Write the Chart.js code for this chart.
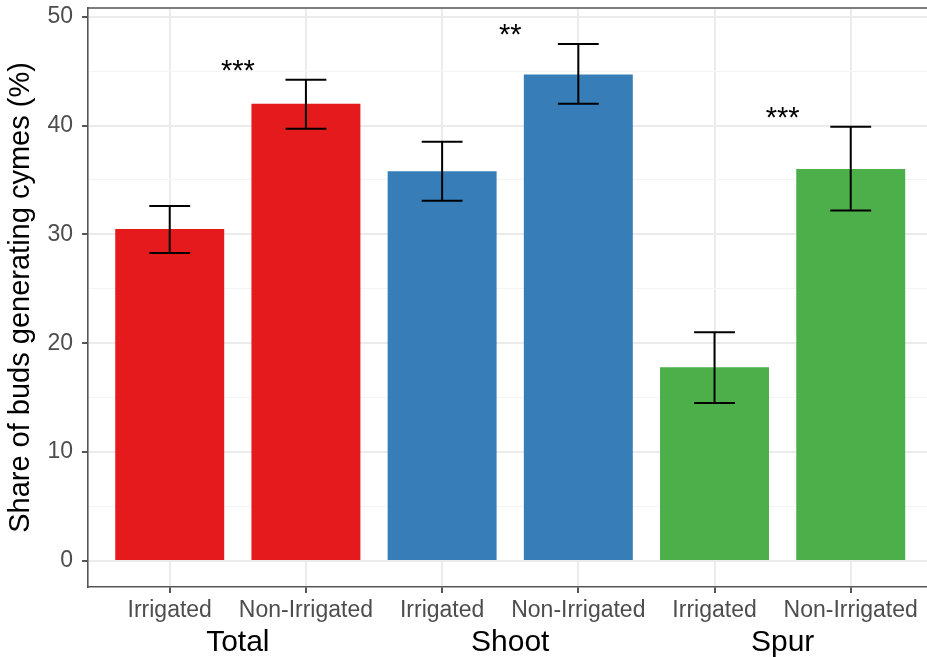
<!DOCTYPE html>
<html>
<head>
<meta charset="utf-8">
<script src="https://cdn.jsdelivr.net/npm/chart.js@4/dist/chart.umd.min.js"></script>
<style>
  html, body { margin: 0; padding: 0; background: #ffffff; }
  #wrap { width: 927px; height: 657px; position: relative; }
</style>
</head>
<body>
<div id="wrap"><canvas id="c" width="927" height="657"></canvas></div>
<script>
// Share of buds generating cymes, by bud type and irrigation treatment
const categories = ['Irrigated', 'Non-Irrigated', 'Irrigated', 'Non-Irrigated', 'Irrigated', 'Non-Irrigated'];
const groups = ['Total', 'Shoot', 'Spur'];
const values = [30.5, 42.0, 35.8, 44.7, 17.8, 36.0];
const lower = [28.3, 39.7, 33.1, 42.0, 14.5, 32.2];
const upper = [32.6, 44.2, 38.5, 47.5, 21.0, 39.9];
const significance = ['***', '**', '***'];
const yTicks = [0, 5, 10, 15, 20, 25, 30, 35, 40, 45, 50];

const groupColors = ['#E41A1C', '#377EB8', '#4DAF4A'];
const barColors = categories.map((_, i) => groupColors[Math.floor(i / 2)]);

const FONT = '"Liberation Sans", Arial, Helvetica, sans-serif';
const AXIS = '#555555';
const TICKTXT = '#4d4d4d';

function isMajor(v) { return v % 10 === 0; }

// error bars, significance stars and the top panel edge
const overlay = {
  id: 'overlay',
  afterDatasetsDraw(chart) {
    const { ctx, scales: { x, y }, chartArea } = chart;
    const half = (x.getPixelForValue(1.15) - x.getPixelForValue(1));
    ctx.save();
    ctx.strokeStyle = '#000000';
    ctx.lineWidth = 2;
    ctx.lineCap = 'butt';
    values.forEach((v, i) => {
      const px = x.getPixelForValue(i + 1);
      const yl = y.getPixelForValue(lower[i]);
      const yu = y.getPixelForValue(upper[i]);
      ctx.beginPath();
      ctx.moveTo(px, yl); ctx.lineTo(px, yu);
      ctx.moveTo(px - half, yu); ctx.lineTo(px + half, yu);
      ctx.moveTo(px - half, yl); ctx.lineTo(px + half, yl);
      ctx.stroke();
    });
    ctx.fillStyle = '#000000';
    ctx.font = '29px ' + FONT;
    ctx.textAlign = 'center';
    ctx.textBaseline = 'alphabetic';
    significance.forEach((s, g) => {
      const px = x.getPixelForValue(2 * g + 1.5);
      const py = y.getPixelForValue(upper[2 * g + 1]);
      ctx.fillText(s, px, py);
    });
    ctx.strokeStyle = AXIS;
    ctx.lineWidth = 1.6;
    ctx.beginPath();
    ctx.moveTo(chartArea.left, chartArea.top);
    ctx.lineTo(chartArea.right, chartArea.top);
    ctx.stroke();
    ctx.restore();
  }
};

new Chart(document.getElementById('c'), {
  type: 'bar',
  data: {
    datasets: [{
      data: values.map((v, i) => ({ x: i + 1, y: v })),
      backgroundColor: barColors,
      borderWidth: 0,
      categoryPercentage: 1.0,
      barPercentage: 0.8
    }]
  },
  options: {
    responsive: false,
    animation: false,
    devicePixelRatio: 1,
    layout: { padding: { top: 8, left: 0, right: 0, bottom: 0 } },
    plugins: { legend: { display: false }, tooltip: { enabled: false } },
    scales: {
      x: {
        type: 'linear',
        position: 'bottom',
        weight: 0,
        offset: false,
        min: 0.4,
        max: 6.56,
        afterBuildTicks(scale) { scale.ticks = categories.map((_, i) => ({ value: i + 1 })); },
        afterFit(scale) { scale.height = 38; scale.paddingLeft = 0; scale.paddingRight = 0; },
        ticks: {
          autoSkip: false,
          maxRotation: 0,
          padding: 4,
          color: TICKTXT,
          font: { family: FONT, size: 23 },
          callback: (v) => categories[Math.round(v) - 1]
        },
        grid: { offset: false, color: '#ebebeb', lineWidth: 2, tickColor: AXIS, tickWidth: 2, tickLength: 6 },
        border: { display: true, color: AXIS, width: 1.6 }
      },
      x2: {
        type: 'linear',
        position: 'bottom',
        weight: 1,
        offset: false,
        min: 0.4,
        max: 6.56,
        afterBuildTicks(scale) { scale.ticks = groups.map((_, g) => ({ value: 2 * g + 1.5 })); },
        afterFit(scale) { scale.height = 32; scale.paddingLeft = 0; scale.paddingRight = 0; },
        ticks: {
          autoSkip: false,
          maxRotation: 0,
          padding: 0,
          color: '#000000',
          font: { family: FONT, size: 30 },
          callback: (v) => groups[Math.round((v - 1.5) / 2)]
        },
        grid: { display: false, drawTicks: false, offset: false },
        border: { display: false }
      },
      y: {
        type: 'linear',
        min: -2.4,
        max: 50.8,
        afterBuildTicks(scale) { scale.ticks = yTicks.map(v => ({ value: v })); },
        afterFit(scale) { scale.width = 88; scale.paddingTop = 0; scale.paddingBottom = 0; },
        ticks: {
          padding: 9,
          color: TICKTXT,
          font: { family: FONT, size: 23 },
          callback: (v) => (isMajor(v) ? String(v) : '')
        },
        grid: {
          color: (c) => (isMajor(c.tick.value) ? '#ebebeb' : '#f4f4f4'),
          lineWidth: (c) => (isMajor(c.tick.value) ? 2 : 1),
          tickColor: (c) => (isMajor(c.tick.value) ? AXIS : 'rgba(0,0,0,0)'),
          tickWidth: 2,
          tickLength: 6
        },
        border: { display: true, color: AXIS, width: 1.6 },
        title: {
          display: true,
          text: 'Share of buds generating cymes (%)',
          color: '#000000',
          font: { family: FONT, size: 29 },
          padding: { top: 4, bottom: 0 }
        }
      }
    }
  },
  plugins: [overlay]
});
</script>
</body>
</html>
